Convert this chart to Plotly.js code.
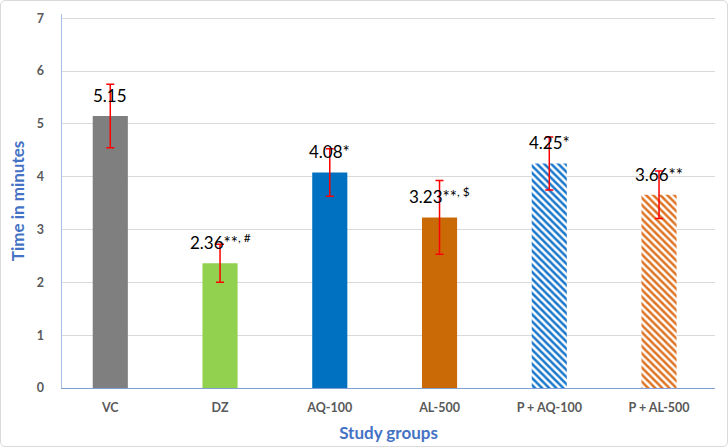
<!DOCTYPE html>
<html>
<head>
<meta charset="utf-8">
<script src="https://cdn.plot.ly/plotly-3.0.1.min.js"></script>
<style>
  body { margin: 0; background: #fff; }
  #chart { width: 728px; height: 447px; }
  #frame { position: absolute; left: 0; top: 0; width: 726px; height: 445px;
           border: 1px solid #d9d9d9; border-radius: 5px; pointer-events: none; }
</style>
</head>
<body>
<div id="chart"></div>
<div id="frame"></div>
<script>
// study groups and mean time (minutes) with error
const groups = ['VC', 'DZ', 'AQ-100', 'AL-500', 'P + AQ-100', 'P + AL-500'];
const means = [5.15, 2.36, 4.08, 3.23, 4.25, 3.66];
const errors = [0.6, 0.36, 0.45, 0.7, 0.5, 0.45];
const labels = ['5.15', '2.36**<sup>, #</sup>', '4.08*', '3.23**<sup>, $</sup>', '4.25*', '3.66**'];

const barColors = ['#7f7f7f', '#92d050', '#0070c0', '#c96a06', '#1a78cc', '#de7424'];
const striped = [false, false, false, false, true, true];

const fontFam = 'Lato, "Open Sans", sans-serif';

// one trace per bar so each can have its own fill / pattern
var data = groups.map(function(g, i) {
    var marker = { color: barColors[i], line: { width: 0 } };
    if (striped[i]) {
        marker.color = '#ffffff';
        marker.pattern = {
            shape: '\\',
            fgcolor: barColors[i],
            bgcolor: '#ffffff',
            fillmode: 'replace',
            size: 5,
            solidity: 0.5
        };
    }
    return {
        x: [g],
        y: [means[i]],
        type: 'bar',
        width: 0.32,
        marker: marker,
        error_y: {
            type: 'data',
            array: [errors[i]],
            visible: true,
            color: '#ff0000',
            thickness: 1.5,
            width: 4
        },
        hoverinfo: 'none'
    };
});

var annotations = groups.map(function(g, i) {
    return {
        x: g,
        y: means[i],
        text: labels[i],
        showarrow: false,
        yanchor: 'bottom',
        yshift: 8,
        font: { family: fontFam, size: 17, color: '#000000' }
    };
});

var layout = {
    width: 728,
    height: 447,
    margin: { l: 62, r: 13, t: 14, b: 59 },
    paper_bgcolor: '#ffffff',
    plot_bgcolor: '#ffffff',
    showlegend: false,
    barmode: 'overlay',
    font: { family: fontFam, color: '#595959' },
    xaxis: {
        type: 'category',
        categoryorder: 'array',
        categoryarray: groups,
        range: [-0.44, 5.51],
        showgrid: false,
        showline: true,
        linecolor: '#7f9fd6',
        linewidth: 1.2,
        ticks: '',
        ticklabelstandoff: 8,
        tickfont: { size: 12.5, color: '#595959', family: fontFam, weight: 'bold' },
        title: {
            text: '<b>Study groups</b>',
            font: { size: 17, color: '#4472c4' },
            standoff: 12
        }
    },
    yaxis: {
        range: [0, 7.08],
        dtick: 1,
        showgrid: true,
        gridcolor: '#d9d9d9',
        gridwidth: 1,
        zeroline: false,
        showline: true,
        linecolor: '#a9c0e6',
        linewidth: 1.5,
        ticks: '',
        ticklabelstandoff: 14,
        tickfont: { size: 12.5, color: '#595959', family: fontFam, weight: 'bold' },
        title: {
            text: '<b>Time in minutes</b>',
            font: { size: 17, color: '#4472c4' },
            standoff: 8
        }
    },
    annotations: annotations
};

Plotly.newPlot('chart', data, layout, { displayModeBar: false, staticPlot: true });
</script>
</body>
</html>
